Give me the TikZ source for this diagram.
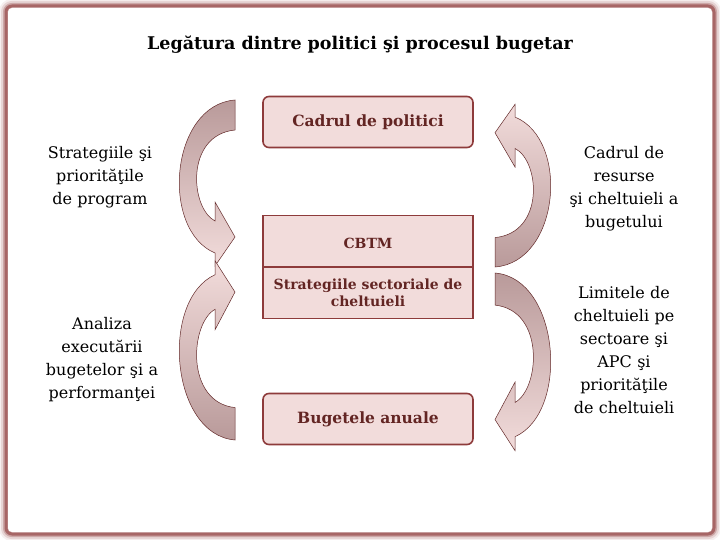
\documentclass[tikz,border=0pt]{standalone}
\usepackage{fontspec}
\setmainfont{DejaVu Serif}
\definecolor{boxline}{HTML}{8E3B3B}
\definecolor{boxfill}{HTML}{F2DCDB}
\definecolor{boxtext}{HTML}{632523}
\definecolor{arrowdark}{HTML}{B99A9A}
\tikzset{
  pbox/.style={draw=boxline, line width=1.6pt, fill=boxfill, minimum width=210pt,
    minimum height=51pt, text=boxtext, font=\fontsize{15.5}{18}\selectfont\bfseries, align=center},
  side/.style={font=\fontsize{16}{23}\selectfont, align=center, text width=140pt},
  bent/.style={draw=boxline!70!black, line width=0.5pt, top color=arrowdark, bottom color=boxfill}
}
\newcommand{\bentshape}{(0,0) .. controls (-65,5) and (-75,130) .. (-20,153) -- (-20,166)
  -- (0,137) -- (-20,102) -- (-20,121) .. controls (-45,108) and (-50,35) .. (0,30) -- cycle}
\begin{document}
\begin{tikzpicture}[x=1pt, y=-1pt]
  \useasboundingbox (0,0) rectangle (720,540);
  % frame
  \foreach \w/\o in {14/0.08, 10/0.15, 6/0.3, 3/0.6}
    \draw[boxline, line width=\w pt, opacity=\o, rounded corners=6pt] (6,6) rectangle (714,534);
  \fill[white, rounded corners=4pt] (8,8) rectangle (712,532);

  \node[font=\fontsize{17.5}{20}\selectfont\bfseries] (title) at (360,45) {Legătura dintre politici şi procesul bugetar};

  % boxes
  \node[pbox, rounded corners=6pt] (pol) at (368,122) {Cadrul de politici};
  \node[pbox] (cbtm) at (368,241) {};
  \node[text=boxtext, font=\fontsize{14}{16}\selectfont\bfseries] at (368,243) {CBTM};
  \node[pbox, font=\fontsize{14}{17}\selectfont\bfseries, inner sep=0pt] (sect) at (368,293) {Strategiile sectoriale de\\cheltuieli};
  \node[pbox, rounded corners=6pt] (bug) at (368,419) {Bugetele anuale};

  % bent arrows
  \begin{scope}[shift={(235,100)}]
    \path[bent] \bentshape;
  \end{scope}
  \begin{scope}[shift={(235,440)}, yscale=-1.08]
    \path[bent, top color=boxfill, bottom color=arrowdark] \bentshape;
  \end{scope}
  \begin{scope}[shift={(495,267)}, xscale=-1, yscale=-0.98]
    \path[bent, top color=boxfill, bottom color=arrowdark] \bentshape;
  \end{scope}
  \begin{scope}[shift={(495,273)}, xscale=-1, yscale=1.07]
    \path[bent] \bentshape;
  \end{scope}

  % side labels
  \node[side] (strat) at (100,177) {Strategiile şi\\priorităţile\\de program};
  \node[side] (anal) at (102,360) {Analiza\\executării\\bugetelor şi a\\performanţei};
  \node[side] (res) at (624,189) {Cadrul de\\resurse\\şi cheltuieli a\\bugetului};
  \node[side] (lim) at (624,350) {Limitele de\\cheltuieli pe\\sectoare şi\\APC şi\\priorităţile\\de cheltuieli};
\end{tikzpicture}
\end{document}
